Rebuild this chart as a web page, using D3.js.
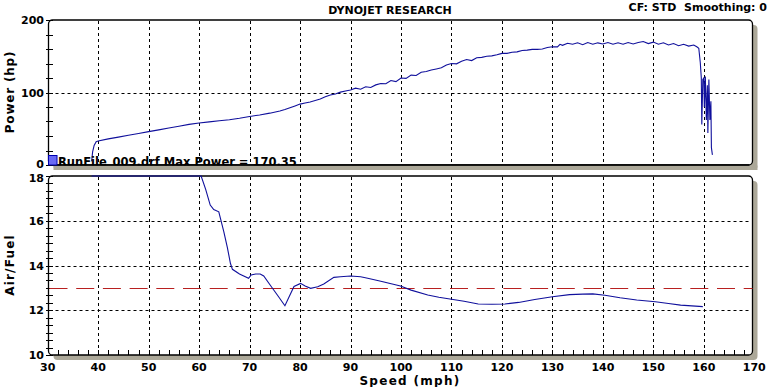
<!DOCTYPE html>
<html><head><meta charset="utf-8">
<script src="https://cdn.jsdelivr.net/npm/d3@7/dist/d3.min.js"></script>
<style>body{margin:0;background:#fff}svg{display:block}text{font-family:"DejaVu Sans",Verdana,sans-serif;font-weight:bold;fill:#000;white-space:pre}</style>
</head><body><svg id="c" width="778" height="387"></svg>
<script>
// ---- data ----
const powerSpeed = [38.7,38.9,39.2,39.6,40,42,44,46,48,50,52,54,56,58,60,62,64,66,68,70,72,74,76,77,78,79,
 80,81,82,83,84,85,86,87,88,89,90,91,92,93,94,95,96,97,98,99,100,101,102,103,104,105,106,107,108,109,
 110,111,112,113,114,115,116,117,118,119,120,121,122,123,124,125,126,127,128,129,130,131,131.5,132,133,134,
 135,136,137,138,139,140,141,142,143,144,145,146,147,148,149,150,151,152,153,154,155,156,157,158,158.6,
 159,159.3,159.5,159.6,159.8,160,160.1,160.3,160.5,160.7,160.8,161,161.2,161.4,161.5,161.7];
const powerHp = [5,18,27,32,33,36,38.5,41,43.5,46,48.5,51,53.5,56,58,59.5,61,62.5,64.5,67,69,71.5,74.5,76.5,79,81.5,
 84,85.5,87,89,91,94,96.5,98,100.5,102,103.5,106,104.5,108,107,110.5,112.5,112,116.5,115,120,119.5,124,123.5,128,129,131,132.5,134,138,
 140,139.5,143,145.5,144,148,148.5,150,150.5,152,154,154,155.5,156,158,158.5,159.5,159.5,160,162,163,163,166.5,165,168,166.5,
 168.5,166,169,166.5,168.5,167,169,166.5,168.5,166.5,169,167,169,170.35,167.5,169.5,166.5,168.5,165.5,167.5,164.5,166.5,164,165.5,163,
 161,141,120,56,118,120,80,122,62,110,44,118,62,88,24,14];
const afrSpeed = [38.7,60.4,61.3,62.2,62.9,63.9,64.9,65.6,66.2,66.6,68,69.8,70.3,71.2,72.1,72.8,74,75.5,77,78.8,80.1,81,82.1,83.5,84.7,
 86.7,88,90,92,93.4,96,99.9,102,105.3,107.5,110,112.5,115.3,118,120.6,123.3,126.5,130,133.4,136,138,140.4,143.4,146.7,150.4,153,155.4,159.8];
const afrRatio = [18,18,17.4,16.7,16.5,16.4,15.5,14.8,14.1,13.83,13.62,13.43,13.58,13.62,13.62,13.53,13.15,12.68,12.2,13.06,13.2,13.08,12.98,13.05,13.17,
 13.47,13.5,13.53,13.5,13.43,13.3,13.08,12.9,12.68,12.58,12.49,12.4,12.28,12.27,12.28,12.35,12.48,12.6,12.7,12.72,12.73,12.67,12.56,12.46,12.38,12.3,12.23,12.16];
const afrTarget = 13.0;
const speedTicks = [30,40,50,60,70,80,90,100,110,120,130,140,150,160,170];
const powerTicks = [0,100,200];
const afrTicks = [10,12,14,16,18];
const title = "DYNOJET RESEARCH";
const info = "CF: STD  Smoothing: 0";
const legendText = "RunFile_009.drf Max Power = 170.35";

// ---- layout ----
const svg = d3.select("#c");
const L = 48.5, R = 752.5;
const x = d3.scaleLinear([30,170],[47.7,754.3]);
const yP = d3.scaleLinear([0,200],[165,20]);
const yA = d3.scaleLinear([10,18],[355,176]);
const crisp = v => Math.round(v)+0.5;
const shadow = "#aca899", blue = "#10109c";

function panel(top,bottom){
  svg.append("rect").attr("x",L+5).attr("y",top+5).attr("width",R-L).attr("height",bottom-top)
    .attr("rx",4).attr("fill",shadow);
  svg.append("rect").attr("x",L).attr("y",top).attr("width",R-L).attr("height",bottom-top)
    .attr("rx",4).attr("fill","#fff").attr("stroke","#000").attr("stroke-width",1.3);
}
panel(20,165);
panel(176,355);

// grids
function vgrid(y0,y1){
  svg.append("g").selectAll("line").data(speedTicks.filter(d=>d>30&&d<170)).join("line")
    .attr("x1",d=>crisp(x(d))).attr("x2",d=>crisp(x(d))).attr("y1",y0).attr("y2",y1)
    .attr("stroke","#000").attr("stroke-dasharray","3,3");
}
vgrid(21,164); vgrid(177,354);
svg.append("g").selectAll("line").data([100]).join("line")
  .attr("x1",L+1).attr("x2",R-1).attr("y1",d=>crisp(yP(d))).attr("y2",d=>crisp(yP(d)))
  .attr("stroke","#000").attr("stroke-dasharray","3,3");
svg.append("g").selectAll("line").data([12,14,16]).join("line")
  .attr("x1",L+1).attr("x2",R-1).attr("y1",d=>crisp(yA(d))).attr("y2",d=>crisp(yA(d)))
  .attr("stroke","#000").attr("stroke-dasharray","3,3");

// minor ticks
svg.append("g").selectAll("line").data(d3.range(0,201,20)).join("line")
  .attr("x1",46).attr("x2",53).attr("y1",d=>crisp(yP(d))).attr("y2",d=>crisp(yP(d))).attr("stroke","#000");
svg.append("g").selectAll("line").data(d3.range(0,25).map(i=>10+i/3)).join("line")
  .attr("x1",46).attr("x2",53).attr("y1",d=>crisp(yA(d))).attr("y2",d=>crisp(yA(d))).attr("stroke","#000");
svg.append("g").selectAll("line").data(d3.range(32,170,2)).join("line")
  .attr("x1",d=>crisp(x(d))).attr("x2",d=>crisp(x(d))).attr("y1",350).attr("y2",355).attr("stroke","#000");

// tick labels
svg.append("g").selectAll("text").data(powerTicks).join("text")
  .attr("x",44).attr("y",d=>d===0?yP(d)+2.5:yP(d)+4).attr("text-anchor","end").attr("font-size",11).text(d=>d);
svg.append("g").selectAll("text").data(afrTicks).join("text")
  .attr("x",44).attr("y",d=>d===18?yA(d)+5.5:yA(d)+4).attr("text-anchor","end").attr("font-size",11).text(d=>d);
svg.append("g").selectAll("text").data(speedTicks).join("text")
  .attr("x",d=>x(d)).attr("y",371).attr("text-anchor","middle").attr("font-size",11).text(d=>d);

// axis titles
svg.append("text").attr("transform","translate(14,92) rotate(-90)").attr("text-anchor","middle")
  .attr("font-size",12).attr("letter-spacing",0.8).text("Power (hp)");
svg.append("text").attr("transform","translate(14,265) rotate(-90)").attr("text-anchor","middle")
  .attr("font-size",12).attr("letter-spacing",1.2).text("Air/Fuel");
svg.append("text").attr("x",410).attr("y",385).attr("text-anchor","middle")
  .attr("font-size",12).attr("letter-spacing",1.3).text("Speed (mph)");
svg.append("text").attr("x",390).attr("y",14).attr("text-anchor","middle").attr("font-size",11).text(title);
svg.append("text").attr("x",767).attr("y",11).attr("text-anchor","end").attr("font-size",11)
  .attr("xml:space","preserve").text(info);

// red target line
svg.append("line").attr("x1",L+1).attr("x2",R).attr("y1",crisp(yA(afrTarget))).attr("y2",crisp(yA(afrTarget)))
  .attr("stroke","#b82020").attr("stroke-width",1.2).attr("stroke-dasharray","18,8.7");

// curves
const line = (ys)=>d3.line().x(d=>x(d[0])).y(d=>ys(d[1]));
svg.append("path").datum(powerSpeed.map((s,i)=>[s,powerHp[i]])).attr("d",line(yP))
  .attr("fill","none").attr("stroke",blue).attr("stroke-width",1.1);
svg.append("path").datum(afrSpeed.map((s,i)=>[s,afrRatio[i]])).attr("d",line(yA))
  .attr("fill","none").attr("stroke",blue).attr("stroke-width",1.1);

// legend
svg.append("text").attr("x",58).attr("y",165.5).attr("font-size",11.5).text(legendText);
svg.append("rect").attr("x",53.5).attr("y",165.6).attr("width",R-L).attr("height",4.4).attr("fill",shadow);
svg.append("line").attr("x1",L+3).attr("x2",R-3).attr("y1",165).attr("y2",165).attr("stroke","#000").attr("stroke-width",1.3);
svg.append("rect").attr("x",48.5).attr("y",155.5).attr("width",8.5).attr("height",9.5)
  .attr("fill","#6a6af5").attr("stroke","#0000b0");
</script></body></html>
